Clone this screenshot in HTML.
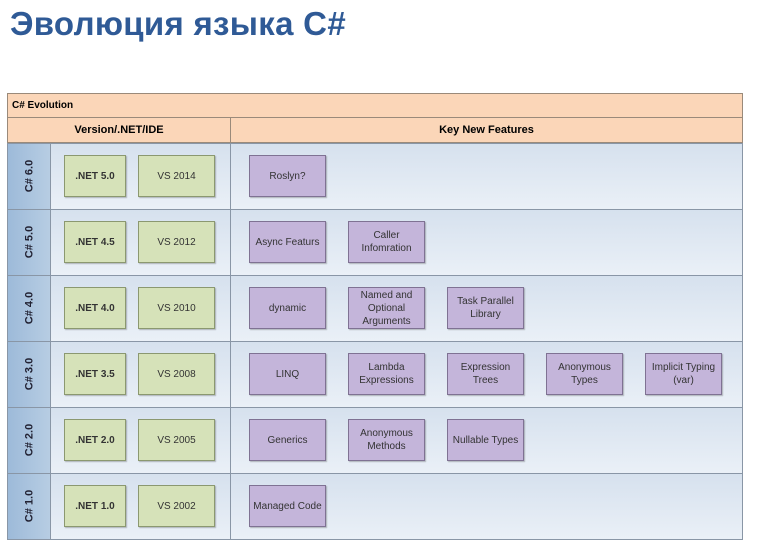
<!DOCTYPE html>
<html><head><meta charset="utf-8"><style>
body{margin:0;width:771px;height:544px;background:#fff;position:relative;overflow:hidden;font-family:"Liberation Sans",sans-serif}
.t{position:absolute;left:10px;top:5px;font-size:33px;font-weight:bold;color:#2f5a96;letter-spacing:0.3px}
.a{position:absolute;box-sizing:border-box}
.hd{background:#fbd6b8;border:1px solid #9a8a7a}
.row{background:linear-gradient(#d6e1ee,#eaf0f7);border:1px solid #8996a6}
.lab{background:linear-gradient(90deg,#9dbad9,#b7cde3);border:1px solid #8996a6}
.lt{position:absolute;left:0;width:43px;font-size:11px;font-weight:bold;color:#223;transform:rotate(-90deg);text-align:center;white-space:nowrap}
.g,.p{position:absolute;display:flex;align-items:center;justify-content:center;text-align:center;font-size:10px;color:#333;box-sizing:border-box;height:42px;line-height:13px;box-shadow:1px 1px 1px rgba(0,0,0,.25)}
.g{background:#d6e2b9;border:1px solid #8b9870}
.p{background:#c4b5da;border:1px solid #7f7293;width:77px}
</style></head><body>
<div class="t">Эволюция языка C#</div>
<div class="a hd" style="left:7px;top:93px;width:736px;height:25px;font-size:10px;font-weight:bold;padding:6px 0 0 4px">C# Evolution</div>
<div class="a hd" style="left:7px;top:117px;width:224px;height:26px;font-size:11px;font-weight:bold;text-align:center;padding-top:6px">Version/.NET/IDE</div>
<div class="a hd" style="left:230px;top:117px;width:513px;height:26px;font-size:11px;font-weight:bold;text-align:center;padding-top:6px">Key New Features</div>

<div id="rows"></div>
<script>
var data=[
["C# 6.0",".NET 5.0","VS 2014",["Roslyn?"]],
["C# 5.0",".NET 4.5","VS 2012",["Async Featurs","Caller<br>Infomration"]],
["C# 4.0",".NET 4.0","VS 2010",["dynamic","Named and<br>Optional<br>Arguments","Task Parallel<br>Library"]],
["C# 3.0",".NET 3.5","VS 2008",["LINQ","Lambda<br>Expressions","Expression<br>Trees","Anonymous<br>Types","Implicit Typing<br>(var)"]],
["C# 2.0",".NET 2.0","VS 2005",["Generics","Anonymous<br>Methods","Nullable Types"]],
["C# 1.0",".NET 1.0","VS 2002",["Managed Code"]]];
var h='',xs=[249,348,447,546,645];
data.forEach(function(d,i){
 var y=143+i*66,hh=67;
 h+='<div class="a row" style="left:50px;top:'+y+'px;width:181px;height:'+hh+'px"></div>';
 h+='<div class="a row" style="left:230px;top:'+y+'px;width:513px;height:'+hh+'px"></div>';
 h+='<div class="a lab" style="left:7px;top:'+y+'px;width:44px;height:'+hh+'px"><div class="lt" style="top:26px">'+d[0]+'</div></div>';
 h+='<div class="g" style="left:64px;top:'+(y+12)+'px;width:62px;font-weight:bold">'+d[1]+'</div>';
 h+='<div class="g" style="left:138px;top:'+(y+12)+'px;width:77px">'+d[2]+'</div>';
 d[3].forEach(function(f,j){h+='<div class="p" style="left:'+xs[j]+'px;top:'+(y+12)+'px">'+f+'</div>';});
});
document.getElementById('rows').innerHTML=h;
</script>
</body></html>
